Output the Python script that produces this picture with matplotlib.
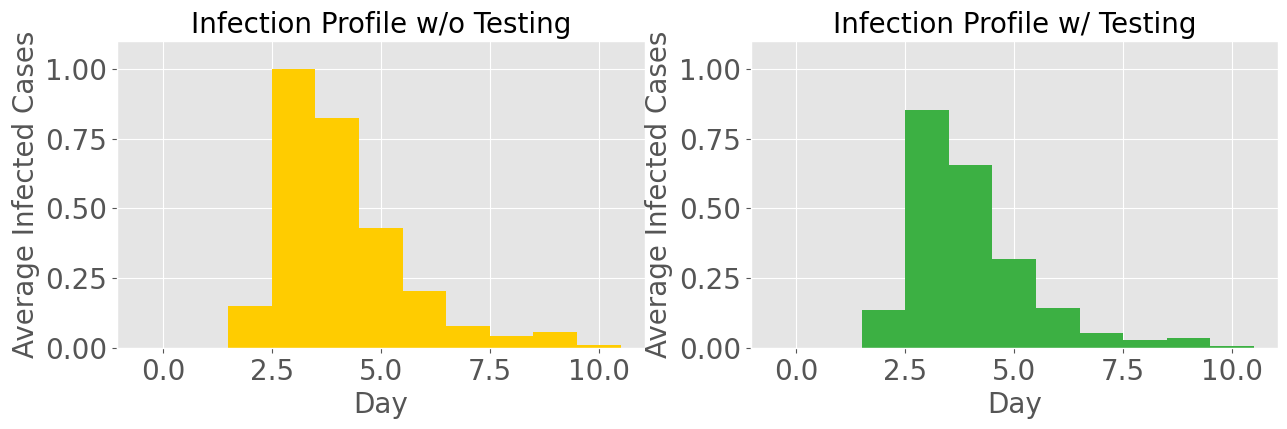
import matplotlib
matplotlib.use('Agg')
import matplotlib.pyplot as plt

plt.style.use('ggplot')

days = [0, 1, 2, 3, 4, 5, 6, 7, 8, 9, 10]
# average infected cases per day
no_testing = [0, 0, 0.150, 1.000, 0.825, 0.430, 0.205, 0.079, 0.043, 0.058, 0.011]
with_testing = [0, 0, 0.136, 0.855, 0.655, 0.318, 0.143, 0.054, 0.030, 0.036, 0.007]

titles = ['Infection Profile w/o Testing', 'Infection Profile w/ Testing']
colors = ['#FFCC00', '#3CB043']

fig, axes = plt.subplots(1, 2, figsize=(12.87, 4.29), dpi=100)

for ax, vals, title, c in zip(axes, [no_testing, with_testing], titles, colors):
    ax.bar(days, vals, width=1.0, color=c)
    ax.set_ylim(0, 1.1)
    ax.set_yticks([0, 0.25, 0.5, 0.75, 1.0])
    ax.set_yticklabels(['0.00', '0.25', '0.50', '0.75', '1.00'])
    ax.set_xticks([0, 2.5, 5, 7.5, 10])
    ax.set_xticklabels(['0.0', '2.5', '5.0', '7.5', '10.0'])
    ax.tick_params(labelsize=20)
    ax.set_title(title, fontsize=20, color='black')
    ax.set_xlabel('Day', fontsize=20)
    ax.set_ylabel('Average Infected Cases', fontsize=20)

fig.subplots_adjust(left=0.091, right=0.993, top=0.904, bottom=0.189, wspace=0.201)
fig.savefig('out.png')
